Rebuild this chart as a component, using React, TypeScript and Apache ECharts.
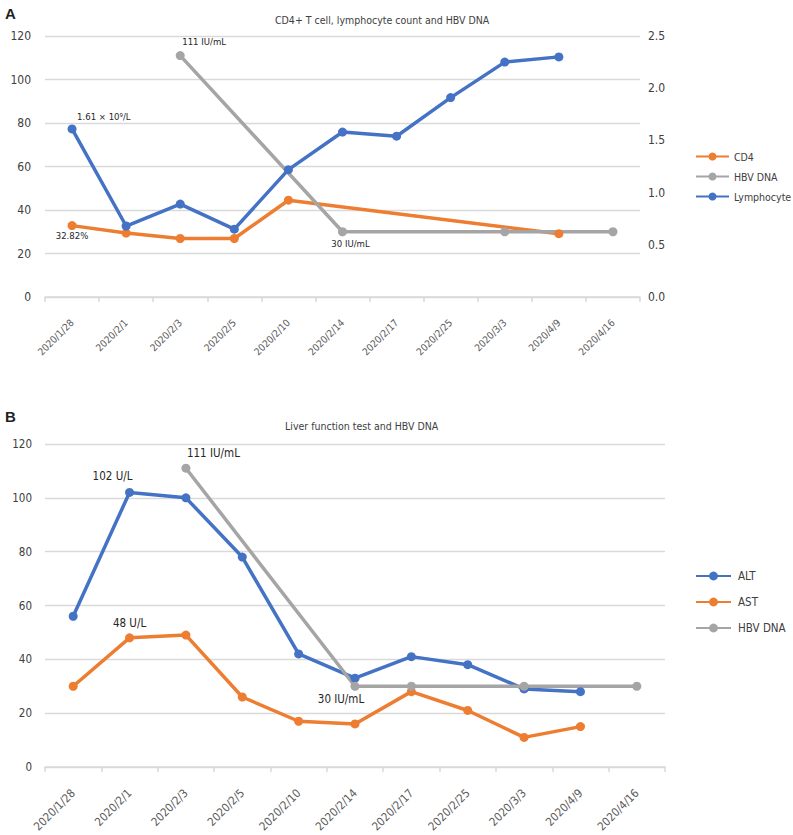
import React, { useEffect, useRef } from "react";
import * as echarts from "echarts";

const categories = [
  "2020/1/28", "2020/2/1", "2020/2/3", "2020/2/5", "2020/2/10", "2020/2/14",
  "2020/2/17", "2020/2/25", "2020/3/3", "2020/4/9", "2020/4/16",
];

// Panel A
const cd4 = [32.82, 29.4, 26.9, 26.9, 44.5, null, null, null, null, 29.1, null];
const hbvA = [null, null, 111, null, null, 30, null, null, 30, null, 30];
const lymphocyte = [1.61, 0.68, 0.89, 0.65, 1.22, 1.58, 1.54, 1.91, 2.25, 2.3, null];

// Panel B
const alt = [56, 102, 100, 78, 42, 33, 41, 38, 29, 28, null];
const ast = [30, 48, 49, 26, 17, 16, 28, 21, 11, 15, null];
const hbvB = [null, null, 111, null, null, 30, 30, null, 30, null, 30];

const leftAxisA = { min: 0, max: 120, interval: 20 };
const rightAxisA = { min: 0, max: 2.5, interval: 0.5 };
const leftAxisB = { min: 0, max: 120, interval: 20 };

const titleA = "CD4+ T cell, lymphocyte count and HBV DNA";
const titleB = "Liver function test and HBV DNA";

const BLUE = "#4472C4";
const ORANGE = "#ED7D31";
const GRAY = "#A5A5A5";
const FONT = '"DejaVu Sans Condensed", "DejaVu Sans", sans-serif';
const AXIS_TXT = "#595959";
const GRID_LINE = "#d9d9d9";

type Lab = { text: string; align: string; dx: number; dy: number; size: number };

function withLabels(values: (number | null)[], labels: Record<number, Lab>) {
  return values.map((v, i) => {
    const l = labels[i];
    if (!l || v === null) return v;
    return {
      value: v,
      label: {
        show: true,
        position: "inside",
        formatter: l.text,
        align: l.align,
        verticalAlign: "middle",
        offset: [l.dx, l.dy],
        color: "#262626",
        fontFamily: FONT,
        fontSize: l.size,
      },
    };
  });
}

function lineSeries(name: string, color: string, data: any[], xAxisIndex: number, yAxisIndex: number) {
  return {
    name,
    type: "line",
    xAxisIndex,
    yAxisIndex,
    data,
    connectNulls: true,
    symbol: "circle",
    symbolSize: 9,
    lineStyle: { color, width: 3.5 },
    itemStyle: { color },
    label: { show: false },
    emphasis: { disabled: true },
  };
}

export default function App() {
  const ref = useRef<HTMLDivElement>(null);
  useEffect(() => {
    if (!ref.current) return;
    const chart = echarts.init(ref.current, undefined, { renderer: "svg" });

    const xAxisBase = (gridIndex: number, fontSize: number, margin: number) => ({
      type: "category",
      gridIndex,
      data: categories,
      boundaryGap: true,
      axisLine: { lineStyle: { color: GRID_LINE, width: 1.5 } },
      axisTick: { show: true, length: 5, lineStyle: { color: GRID_LINE, width: 1.5 } },
      axisLabel: {
        interval: 0,
        rotate: 45,
        margin,
        color: AXIS_TXT,
        fontFamily: FONT,
        fontSize,
      },
      splitLine: { show: false },
    });

    const yAxisBase = (gridIndex: number, cfg: any, fontSize: number, position: string, margin: number, decimals: number) => ({
      type: "value",
      gridIndex,
      position,
      min: cfg.min,
      max: cfg.max,
      interval: cfg.interval,
      axisLine: { show: false },
      axisTick: { show: false },
      axisLabel: {
        color: "#404040",
        fontFamily: FONT,
        fontSize,
        margin,
        formatter: (v: number) => v.toFixed(decimals),
      },
      splitLine: { show: position === "left", lineStyle: { color: GRID_LINE, width: 1.3 } },
    });

    const option: any = {
      animation: false,
      backgroundColor: "#ffffff",
      title: [
        {
          text: titleA,
          left: 270,
          top: 9,
          textStyle: { fontFamily: FONT, fontSize: 10.5, fontWeight: "normal", color: "#404040" },
        },
        {
          text: titleB,
          left: 280,
          top: 415,
          textStyle: { fontFamily: FONT, fontSize: 10.5, fontWeight: "normal", color: "#404040" },
        },
        {
          text: "A",
          left: 0,
          top: 1,
          textStyle: { fontFamily: '"Liberation Sans", Arial, sans-serif', fontSize: 15, fontWeight: "bold", color: "#231f20" },
        },
        {
          text: "B",
          left: 0,
          top: 404,
          textStyle: { fontFamily: '"Liberation Sans", Arial, sans-serif', fontSize: 15, fontWeight: "bold", color: "#231f20" },
        },
      ],
      legend: [
        {
          data: ["CD4", "HBV DNA", "Lymphocyte"],
          orient: "vertical",
          left: 690,
          top: 146,
          itemWidth: 33,
          itemHeight: 10,
          itemGap: 9,
          selectedMode: false,
          textStyle: { fontFamily: FONT, fontSize: 10.5, color: "#404040" },
        },
        {
          data: ["ALT", "AST", "HBV DNA"],
          orient: "vertical",
          left: 690,
          top: 565,
          itemWidth: 35,
          itemHeight: 11,
          itemGap: 14,
          selectedMode: false,
          textStyle: { fontFamily: FONT, fontSize: 11.5, color: "#404040", padding: [0, 0, 0, 2] },
        },
      ],
      grid: [
        { left: 45, top: 36, right: 153, height: 261, containLabel: false },
        { left: 45, top: 444, right: 128, height: 323, containLabel: false },
      ],
      xAxis: [xAxisBase(0, 10, 24), xAxisBase(1, 11.5, 24)],
      yAxis: [
        yAxisBase(0, leftAxisA, 12, "left", 14, 0),
        yAxisBase(0, rightAxisA, 12, "right", 8, 1),
        yAxisBase(1, leftAxisB, 11.5, "left", 13, 0),
      ],
      series: [
        lineSeries("CD4", ORANGE, withLabels(cd4, {
          0: { text: "32.82%", align: "center", dx: 0, dy: 10, size: 9.5 },
        }), 0, 0),
        lineSeries("HBV DNA", GRAY, withLabels(hbvA, {
          2: { text: "111 IU/mL", align: "left", dx: 2, dy: -14, size: 9.5 },
          5: { text: "30 IU/mL", align: "center", dx: 8, dy: 12, size: 9.5 },
        }), 0, 0),
        lineSeries("Lymphocyte", BLUE, withLabels(lymphocyte, {
          0: { text: "1.61 × 10⁹/L", align: "left", dx: 5, dy: -12, size: 9.5 },
        }), 0, 1),
        lineSeries("ALT", BLUE, withLabels(alt, {
          1: { text: "102 U/L", align: "center", dx: -17, dy: -16, size: 11.5 },
        }), 1, 2),
        lineSeries("AST", ORANGE, withLabels(ast, {
          1: { text: "48 U/L", align: "center", dx: 0, dy: -15, size: 11.5 },
        }), 1, 2),
        lineSeries("HBV DNA", GRAY, withLabels(hbvB, {
          2: { text: "111 IU/mL", align: "left", dx: 1, dy: -15, size: 11.5 },
          5: { text: "30 IU/mL", align: "center", dx: -14, dy: 13, size: 11.5 },
        }), 1, 2),
      ],
    };

    chart.setOption(option);
    return () => chart.dispose();
  }, []);

  return (
    <div
      ref={ref}
      style={{ position: "absolute", left: 0, top: 0, width: 793, height: 835, background: "#fff" }}
    />
  );
}
